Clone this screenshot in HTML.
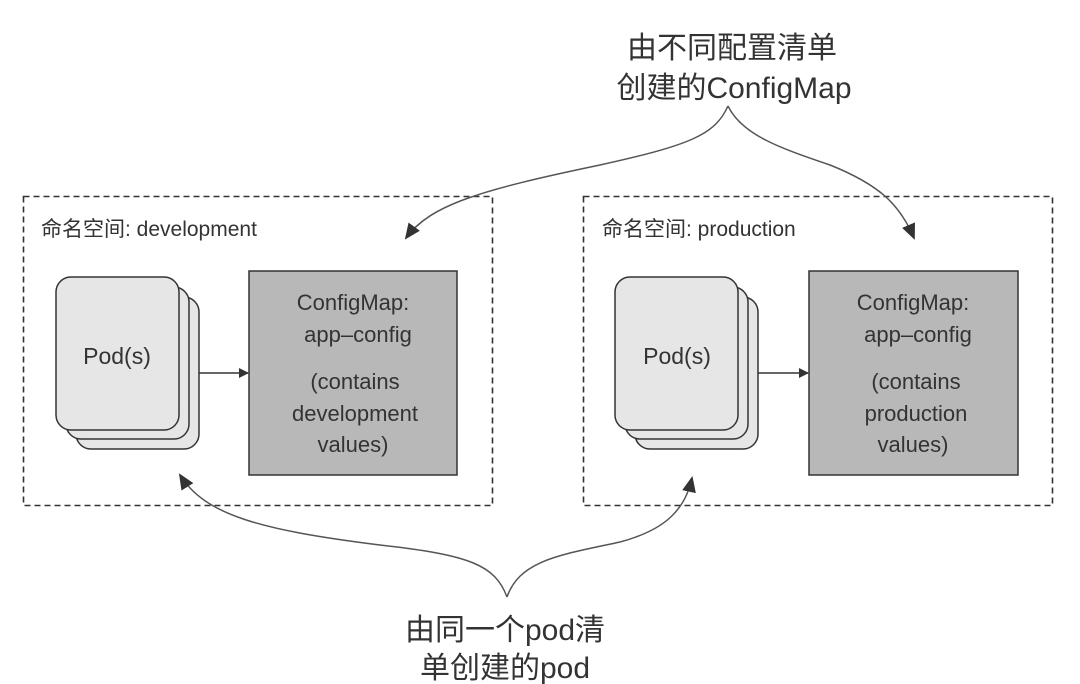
<!DOCTYPE html>
<html><head><meta charset="utf-8"><style>
html,body{margin:0;padding:0;background:#fff;}
svg{display:block;}
text{font-family:"Liberation Sans","Noto Sans CJK SC",sans-serif;fill:#333;}
</style></head><body>
<svg width="1080" height="684" viewBox="0 0 1080 684" xmlns="http://www.w3.org/2000/svg">
<defs>
<marker id="ah" markerWidth="10" markerHeight="10" refX="9" refY="5" orient="auto" markerUnits="userSpaceOnUse">
<path d="M0,0 L10,5 L0,10 z" fill="#333"/></marker>
<marker id="ahb" markerWidth="16" markerHeight="14" refX="14" refY="7" orient="auto" markerUnits="userSpaceOnUse">
<path d="M0,0 L16,7 L0,14 z" fill="#333"/></marker>
</defs>
<rect x="23.5" y="196.5" width="469" height="309" fill="none" stroke="#333" stroke-width="1.6" stroke-dasharray="6,4"/>
<rect x="583.5" y="196.5" width="469" height="309" fill="none" stroke="#333" stroke-width="1.6" stroke-dasharray="6,4"/>
<text x="41" y="236" font-size="21">命名空间: development</text>
<text x="602" y="236" font-size="21">命名空间: production</text>

<rect x="76" y="297" width="123" height="152" rx="15" fill="#e6e6e6" stroke="#333" stroke-width="1.5"/>
<rect x="66" y="287" width="123" height="152" rx="15" fill="#e6e6e6" stroke="#333" stroke-width="1.5"/>
<rect x="56" y="277" width="123" height="153" rx="15" fill="#e6e6e6" stroke="#333" stroke-width="1.5"/>
<text x="117" y="364" font-size="23" text-anchor="middle">Pod(s)</text>
<line x1="199" y1="373" x2="248" y2="373" stroke="#333" stroke-width="1.5" marker-end="url(#ah)"/>
<rect x="249" y="271" width="208" height="204" fill="#b8b8b8" stroke="#333" stroke-width="1.5"/>
<g font-size="22" text-anchor="middle">
<text x="353" y="310">ConfigMap:</text>
<text x="358" y="342">app–config</text>
<text x="355" y="389">(contains</text>
<text x="355" y="421">development</text>
<text x="353" y="452">values)</text>
</g>

<rect x="635" y="297" width="123" height="152" rx="15" fill="#e6e6e6" stroke="#333" stroke-width="1.5"/>
<rect x="625" y="287" width="123" height="152" rx="15" fill="#e6e6e6" stroke="#333" stroke-width="1.5"/>
<rect x="615" y="277" width="123" height="153" rx="15" fill="#e6e6e6" stroke="#333" stroke-width="1.5"/>
<text x="677" y="364" font-size="23" text-anchor="middle">Pod(s)</text>
<line x1="758" y1="373" x2="808" y2="373" stroke="#333" stroke-width="1.5" marker-end="url(#ah)"/>
<rect x="809" y="271" width="209" height="204" fill="#b8b8b8" stroke="#333" stroke-width="1.5"/>
<g font-size="22" text-anchor="middle">
<text x="913" y="310">ConfigMap:</text>
<text x="918" y="342">app–config</text>
<text x="916" y="389">(contains</text>
<text x="916" y="421">production</text>
<text x="913" y="452">values)</text>
</g>

<g font-size="30" text-anchor="middle">
<text x="732" y="58">由不同配置清单</text>
<text x="734" y="98">创建的ConfigMap</text>
</g>
<path d="M728,106 C715,135 690,145 600,165 C480,190 430,205 406,238" fill="none" stroke="#555" stroke-width="1.5" marker-end="url(#ahb)"/>
<path d="M728,106 C742,135 780,148 830,165 C880,185 900,205 914,238" fill="none" stroke="#555" stroke-width="1.5" marker-end="url(#ahb)"/>

<g font-size="30" text-anchor="middle">
<text x="505" y="640">由同一个pod清</text>
<text x="505" y="678">单创建的pod</text>
</g>
<path d="M507,597 C495,565 470,555 380,545 C260,530 205,515 180,475" fill="none" stroke="#555" stroke-width="1.5" marker-end="url(#ahb)"/>
<path d="M507,597 C520,560 560,555 620,542 C665,530 685,510 692,478" fill="none" stroke="#555" stroke-width="1.5" marker-end="url(#ahb)"/>
</svg>
</body></html>
